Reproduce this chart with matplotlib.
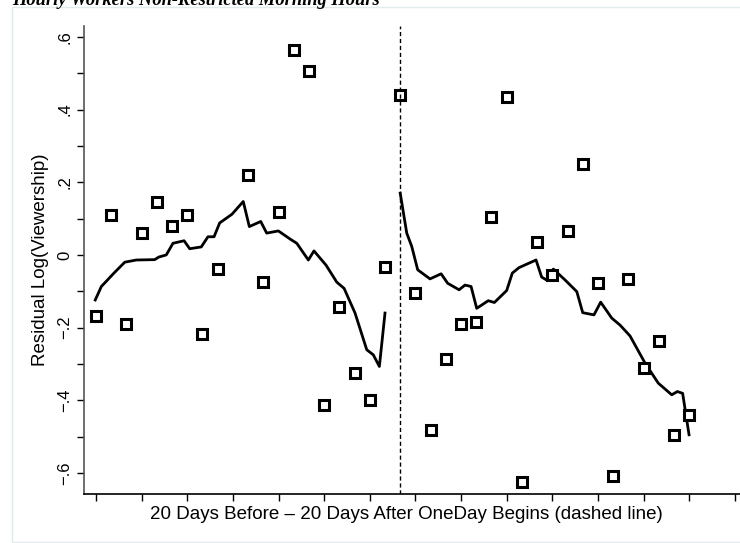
import matplotlib.pyplot as plt
from matplotlib.patches import Rectangle
import numpy as np

# daily residuals (squares)
point_days = [-20, -19, -18, -17, -16, -15, -14, -13, -12, -10, -9, -8, -7, -6, -5, -4, -3, -2, -1, 0,
              1, 2, 3, 4, 5, 6, 7, 8, 9, 10, 11, 12, 13, 14, 15, 16, 17, 18, 19]
point_vals = [-0.169, 0.111, -0.189, 0.061, 0.145, 0.079, 0.109, -0.219, -0.039, 0.221,
              -0.075, 0.117, 0.563, 0.507, -0.413, -0.144, -0.324, -0.399, -0.034, 0.441,
              -0.106, -0.481, -0.286, -0.189, -0.184, 0.105, 0.434, -0.626, 0.035, -0.055,
              0.067, 0.251, -0.076, -0.609, -0.065, -0.312, -0.236, -0.495, -0.440]

# smoothed fit before OneDay
fit_before_x = [-20.05, -19.65, -18.82, -18.11, -17.35, -16.14, -15.88, -15.38, -14.94, -14.21,
                -13.84, -13.08, -12.64, -12.24, -11.87, -11.06, -10.32, -9.92, -9.17, -8.78,
                -8.01, -7.25, -6.80, -6.04, -5.67, -4.88, -4.17, -3.69, -2.97, -2.20,
                -1.77, -1.37, -1.00]
fit_before_y = [-0.124, -0.087, -0.050, -0.020, -0.014, -0.013, -0.006, 0.000, 0.032, 0.039,
                0.017, 0.022, 0.050, 0.050, 0.088, 0.112, 0.147, 0.078, 0.092, 0.060,
                0.066, 0.044, 0.032, -0.014, 0.011, -0.028, -0.075, -0.092, -0.160, -0.261,
                -0.275, -0.307, -0.160]

# smoothed fit after OneDay
fit_after_x = [0.0, 0.43, 0.76, 1.15, 1.96, 2.69, 3.12, 3.87, 4.26, 4.66,
               5.03, 5.79, 6.19, 7.00, 7.37, 7.81, 8.93, 9.30, 9.70, 10.07,
               10.84, 11.61, 12.00, 12.74, 13.18, 13.91, 14.45, 15.11, 16.10, 16.97,
               17.85, 18.22, 18.57, 18.77, 18.99]
fit_after_y = [0.170, 0.060, 0.023, -0.041, -0.066, -0.052, -0.078, -0.096, -0.083, -0.087,
               -0.147, -0.126, -0.131, -0.098, -0.050, -0.035, -0.014, -0.061, -0.071, -0.039,
               -0.069, -0.101, -0.159, -0.165, -0.130, -0.174, -0.193, -0.223, -0.298, -0.353,
               -0.385, -0.376, -0.381, -0.436, -0.495]

y_ticks = [-0.6, -0.4, -0.2, 0, 0.2, 0.4, 0.6]
y_labels = ['\u2212.6', '\u2212.4', '\u2212.2', '0', '.2', '.4', '.6']

plt.rcParams['font.family'] = ['Liberation Sans', 'DejaVu Sans']

fig = plt.figure(figsize=(7.4, 5.43), dpi=100)
ax = fig.add_axes([84 / 740, 49 / 543, 656 / 740, 468 / 543])

# faint graph region frame
fig.patches.append(Rectangle((12 / 740, 1.5 / 543), 1.0, 534.5 / 543, transform=fig.transFigure,
                             fill=False, edgecolor='#e3eaec', linewidth=1.0))

# title sits partly above the top edge, as in the source
fig.text(12 / 740, 1 - 5 / 543, 'Hourly Workers Non-Restricted Morning Hours',
         family='Liberation Serif', fontweight='bold', fontstyle='italic',
         fontsize=13.3, va='baseline', ha='left')

ax.plot(fit_before_x, fit_before_y, color='black', linewidth=2.0)
ax.plot(fit_after_x, fit_after_y, color='black', linewidth=2.0)
ax.plot(point_days, point_vals, 's', markersize=7, markerfacecolor='white',
        markeredgecolor='black', markeredgewidth=2.2, linestyle='none')
ax.axvline(0, color='black', linewidth=1.0, linestyle=(0, (3, 2)))

ax.set_xlim(-20.79, 22.34)
ax.set_ylim(-0.658, 0.630)

ax.set_xticks(np.arange(-20, 23, 3))
ax.set_xticklabels([])
ax.set_yticks(y_ticks)
ax.set_yticklabels(y_labels, rotation=90, va='center', fontsize=12)
ax.set_yticks(np.arange(-0.5, 0.6, 0.2), minor=True)
ax.tick_params(axis='both', which='both', length=5, width=1.0, direction='out')

ax.spines['top'].set_visible(False)
ax.spines['right'].set_visible(False)
ax.spines['left'].set_color('#555555')
ax.spines['left'].set_linewidth(1.2)
ax.spines['bottom'].set_linewidth(1.2)

ax.set_xlabel('20 Days Before \u2013 20 Days After OneDay Begins (dashed line)', fontsize=13.5)
ax.xaxis.set_label_coords(0.492, -0.026)
ax.xaxis.label.set_va('top')
ax.set_ylabel('Residual Log(Viewership)', fontsize=13.5, labelpad=6)

plt.savefig('out.png', dpi=100)
